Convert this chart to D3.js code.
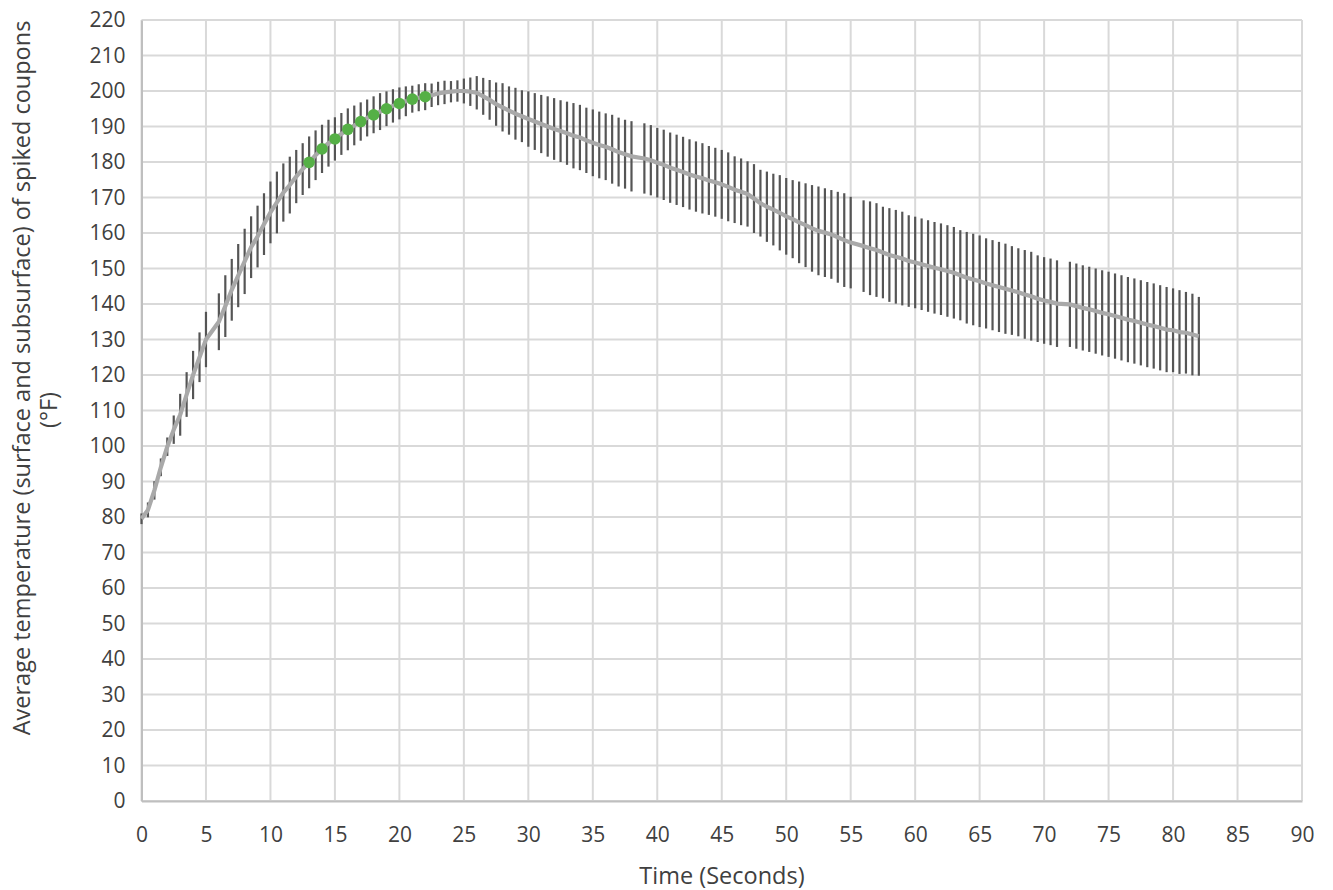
<!DOCTYPE html>
<html>
<head>
<meta charset="utf-8">
<script src="https://cdn.jsdelivr.net/npm/d3@7"></script>
<style>
  html, body { margin: 0; padding: 0; background: #ffffff; }
  svg { display: block; }
  text { font-family: "Open Sans", "Liberation Sans", sans-serif; fill: #404040; }
</style>
</head>
<body>
<svg id="chart" width="1333" height="890"></svg>
<script>
// ---- Data ----
const times = [
  0, 0.5, 1, 1.5, 2, 2.5, 3, 3.5, 4, 4.5,
  5, 5.5, 6, 6.5, 7, 7.5, 8, 8.5, 9, 9.5,
  10, 10.5, 11, 11.5, 12, 12.5, 13, 13.5, 14, 14.5,
  15, 15.5, 16, 16.5, 17, 17.5, 18, 18.5, 19, 19.5,
  20, 20.5, 21, 21.5, 22, 22.5, 23, 23.5, 24, 24.5,
  25, 25.5, 26, 26.5, 27, 27.5, 28, 28.5, 29, 29.5,
  30, 30.5, 31, 31.5, 32, 32.5, 33, 33.5, 34, 34.5,
  35, 35.5, 36, 36.5, 37, 37.5, 38, 38.5, 39, 39.5,
  40, 40.5, 41, 41.5, 42, 42.5, 43, 43.5, 44, 44.5,
  45, 45.5, 46, 46.5, 47, 47.5, 48, 48.5, 49, 49.5,
  50, 50.5, 51, 51.5, 52, 52.5, 53, 53.5, 54, 54.5,
  55, 55.5, 56, 56.5, 57, 57.5, 58, 58.5, 59, 59.5,
  60, 60.5, 61, 61.5, 62, 62.5, 63, 63.5, 64, 64.5,
  65, 65.5, 66, 66.5, 67, 67.5, 68, 68.5, 69, 69.5,
  70, 70.5, 71, 71.5, 72, 72.5, 73, 73.5, 74, 74.5,
  75, 75.5, 76, 76.5, 77, 77.5, 78, 78.5, 79, 79.5,
  80, 80.5, 81, 81.5, 82
];
const meanTemps = [
  79.5, 82, 87.5, 94, 99.8, 104.6, 108.8, 114.5, 120, 125,
  130, null, 135, 139.4, 144, 148, 152, 156, 159, 162.5,
  165.8, 168.6, 171.4, 173.5, 175.9, 178, 179.9, 181.9, 183.7, 185.3,
  186.5, 187.9, 189.2, 190.3, 191.4, 192.4, 193.3, 194.2, 195, 195.8,
  196.5, 197.1, 197.7, 198.1, 198.4, 198.8, 199.3, 199.6, 199.8, 200,
  200, 199.8, 199.5, 198.5, 197.5, 196.3, 195.4, 194.5, 193.6, 192.9,
  192.1, 191.4, 190.7, 190, 189.3, 188.7, 188.1, 187.4, 186.9, 186.1,
  185.4, 184.8, 184.3, 183.6, 182.8, 182.2, 181.6, null, 181, 180.5,
  179.8, 179.2, 178.4, 177.8, 177.2, 176.5, 175.9, 175.4, 174.8, 174.3,
  173.7, 173, 172.2, 171.6, 171, 169.7, 168.4, 167.4, 166.6, 165.7,
  164.7, 163.9, 163, 162.2, 161.3, 160.6, 160.1, 159.6, 158.8, 158,
  157.3, null, 156.3, 155.7, 155.2, 154.5, 153.8, 153.3, 152.8, 152.1,
  151.7, 151.2, 150.7, 150.2, 149.8, 149.3, 148.8, 148.1, 147.4, 146.9,
  146.4, 145.8, 145.3, 144.8, 144.3, 143.8, 143.3, 142.7, 142.2, 141.5,
  141, 140.6, 140.1, null, 139.9, 139.4, 138.9, 138.5, 138, 137.5,
  137.1, 136.6, 136.1, 135.6, 135.2, 134.7, 134.2, 133.8, 133.3, 132.8,
  132.6, 132.1, 131.9, 131.4, 130.9
];
const errorHalf = [
  1.5, 2.1, 2.6, 2.5, 2.6, 4, 5.9, 6.3, 6.8, 7,
  7.8, null, 8, 8.7, 8.7, 8.9, 9.2, 8.7, 8.7, 8.7,
  8.7, 8.7, 8.2, 8, 7.5, 7.3, 7.3, 7, 6.8, 6.6,
  6.1, 5.9, 5.9, 5.6, 5.4, 5.2, 5.2, 5.2, 4.9, 4.7,
  4.5, 4.2, 3.8, 3.8, 3.8, 3.3, 3.3, 3.3, 3, 3,
  3.5, 4, 4.7, 5.2, 5.6, 6.1, 6.8, 6.8, 7.3, 7.3,
  7.8, 8, 8.2, 8.5, 8.7, 8.7, 8.9, 9.2, 9.2, 9.2,
  9.4, 9.4, 9.4, 9.7, 9.7, 9.7, 9.9, null, 9.9, 9.9,
  9.8, 9.9, 9.9, 9.9, 9.9, 9.9, 9.9, 9.9, 9.7, 9.7,
  9.7, 9.7, 9.4, 9.4, 9.2, 9.7, 9.4, 9.9, 10.1, 10.6,
  10.8, 11, 11.5, 11.8, 12.2, 12.5, 12.5, 12.5, 12.8, 13.2,
  12.9, null, 12.9, 13.2, 13.2, 12.9, 13.2, 13.2, 13.2, 12.9,
  12.9, 12.9, 12.9, 12.9, 12.9, 12.9, 12.9, 12.7, 12.9, 12.9,
  12.9, 12.7, 12.7, 12.7, 12.7, 12.5, 12.4, 12.5, 12.5, 12.2,
  12.2, 12.2, 12.2, null, 12, 12, 12, 12, 12, 12,
  12, 12, 12, 12, 12, 12, 12, 12, 12, 12,
  11.8, 11.8, 11.5, 11.5, 11.1
];
const greenTimes = [13, 14, 15, 16, 17, 18, 19, 20, 21, 22];
const greenTemps = [179.9, 183.7, 186.5, 189.2, 191.4, 193.3, 195, 196.5, 197.7, 198.4];
const xTicks = [0, 5, 10, 15, 20, 25, 30, 35, 40, 45, 50, 55, 60, 65, 70, 75, 80, 85, 90];
const yTicks = [0, 10, 20, 30, 40, 50, 60, 70, 80, 90, 100, 110, 120, 130, 140, 150, 160, 170, 180, 190, 200, 210, 220];
const xTitle = "Time (Seconds)";
const yTitleLines = ["Average temperature (surface and subsurface) of spiked coupons", "(°F)"];

// ---- Layout ----
const svg = d3.select("#chart");
const plotL = 141.5, plotR = 1302, plotT = 20, plotB = 801;

const x = d3.scaleLinear().domain([0, 90]).range([plotL, plotR]);
const y = d3.scaleLinear().domain([0, 220]).range([plotB, plotT]);

// Gridlines
const grid = svg.append("g");
grid.selectAll("line.h").data(yTicks).join("line")
  .attr("class", "h")
  .attr("x1", plotL).attr("x2", plotR)
  .attr("y1", d => y(d)).attr("y2", d => y(d))
  .attr("stroke", "#d9d9d9").attr("stroke-width", 2);
grid.selectAll("line.v").data(xTicks).join("line")
  .attr("class", "v")
  .attr("y1", plotT).attr("y2", plotB)
  .attr("x1", d => x(d)).attr("x2", d => x(d))
  .attr("stroke", "#d9d9d9").attr("stroke-width", 2);

// Axes (labels via d3 axes)
const xAxis = svg.append("g").attr("transform", `translate(0,${plotB})`)
  .call(d3.axisBottom(x).tickValues(xTicks).tickSize(0).tickPadding(26).tickFormat(d3.format("d")));
xAxis.select(".domain").attr("stroke", "#bfbfbf").attr("stroke-width", 2);
xAxis.selectAll("text").style("font-size", "21px").attr("fill", "#404040");

const yAxis = svg.append("g").attr("transform", `translate(${plotL},0)`)
  .call(d3.axisLeft(y).tickValues(yTicks).tickSize(0).tickPadding(16).tickFormat(d3.format("d")));
yAxis.select(".domain").attr("stroke", "#bfbfbf").attr("stroke-width", 2);
yAxis.selectAll("text").style("font-size", "21px").attr("fill", "#404040");

// Data records
const data = times.map((t, i) => ({ t, m: meanTemps[i], e: errorHalf[i] }));
const valid = data.filter(d => d.m !== null);

// Error bars
svg.append("g").selectAll("line").data(valid.filter(d => d.e !== null)).join("line")
  .attr("x1", d => x(d.t)).attr("x2", d => x(d.t))
  .attr("y1", d => y(d.m + d.e)).attr("y2", d => y(d.m - d.e))
  .attr("stroke", "#555555").attr("stroke-width", 2.2);

// Mean line
const line = d3.line().x(d => x(d.t)).y(d => y(d.m));
svg.append("path").datum(valid)
  .attr("d", line)
  .attr("fill", "none")
  .attr("stroke", "#a9a9a9")
  .attr("stroke-width", 4.2)
  .attr("stroke-linejoin", "round");

// Green markers
svg.append("g").selectAll("circle").data(greenTimes.map((t, i) => ({ t, v: greenTemps[i] }))).join("circle")
  .attr("cx", d => x(d.t)).attr("cy", d => y(d.v))
  .attr("r", 5.8)
  .attr("fill", "#55b046");

// Axis titles
svg.append("text")
  .attr("x", 722).attr("y", 884)
  .attr("text-anchor", "middle")
  .style("font-size", "23.5px")
  .text(xTitle);

const yt = svg.append("g");
yt.append("text")
  .attr("transform", "translate(30,378) rotate(-90)")
  .attr("text-anchor", "middle")
  .style("font-size", "23.5px")
  .text(yTitleLines[0]);
yt.append("text")
  .attr("transform", "translate(57,410) rotate(-90)")
  .attr("text-anchor", "middle")
  .style("font-size", "23.5px")
  .text(yTitleLines[1]);
</script>
</body>
</html>
